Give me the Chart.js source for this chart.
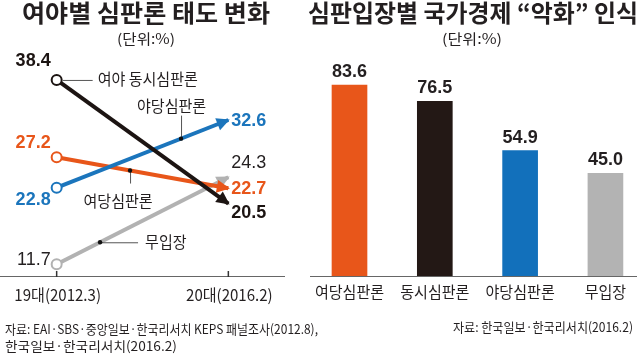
<!DOCTYPE html>
<html><head><meta charset="utf-8">
<script src="https://cdn.jsdelivr.net/npm/chart.js@4"></script>
<style>
html,body{margin:0;padding:0;background:#fff;}
#wrap{position:relative;width:640px;height:355px;overflow:hidden;font-family:"Noto Sans CJK KR","Noto Sans",sans-serif;color:#231f20;}
canvas{position:absolute;top:0;}
.t{position:absolute;white-space:nowrap;line-height:1;transform-origin:0 50%;}
</style></head><body>
<div id="wrap">
<canvas id="left" width="310" height="355" style="left:0"></canvas>
<canvas id="right" width="330" height="355" style="left:310px"></canvas>
</div>
<script>
// ---- data ----
const periods = ['19대(2012.3)', '20대(2016.2)'];
const seriesNames = ['여야 동시심판론', '야당심판론', '여당심판론', '무입장'];
const dongsiValues = [38.4, 20.5];
const yadangValues = [22.8, 32.6];
const yeodangValues = [27.2, 22.7];
const noStanceValues = [11.7, 24.3];
const barCategories = ['여당심판론', '동시심판론', '야당심판론', '무입장'];
const barValues = [83.6, 76.5, 54.9, 45.0];
const leftTitle = '여야별 심판론 태도 변화';
const rightTitle = '심판입장별 국가경제 “악화” 인식';
const unitLabel = '(단위:%)';
const leftSource = ['자료: EAI·SBS·중앙일보·한국리서치 KEPS 패널조사(2012.8),', '한국일보·한국리서치(2016.2)'];
const rightSource = '자료: 한국일보·한국리서치(2016.2)';

// ---- styles ----
const C = {orange:'#e8561a', blue:'#1b75bc', black:'#1c1412', gray:'#b2b2b2', text:'#231f20', axis:'#666'};
const NUM = '"Liberation Sans", Arial, sans-serif';
const KR = '"Noto Sans CJK KR", sans-serif';
const KR_SCALE = 0.94;

// ---- HTML texts ----
const wrap = document.getElementById('wrap');
function addText(t, x, cy, w, size, weight){
  const d = document.createElement('div');
  d.className = 't';
  d.textContent = t;
  d.style.left = x + 'px';
  d.style.top = (cy - size*0.57) + 'px';
  d.style.fontSize = size + 'px';
  d.style.fontWeight = weight;
  wrap.appendChild(d);
  const r = d.getBoundingClientRect().width;
  if (r > 0) d.style.transform = 'scaleX(' + (w / r) + ')';
}
addText(leftTitle, 22, 14, 248, 24, 700);
addText(rightTitle, 308, 14, 330, 24, 700);
addText(unitLabel, 117, 38.5, 58, 14, 400);
addText(unitLabel, 442, 38.5, 60, 14, 400);
addText(leftSource[0], 5, 329, 313, 13, 400);
addText(leftSource[1], 5, 346, 172, 13, 400);
addText(rightSource, 453, 327, 180, 13, 400);

// draw Korean text slightly condensed
function krText(ctx, text, x, y, align){
  ctx.save();
  ctx.font = '16px ' + KR;
  ctx.textAlign = align; ctx.textBaseline = 'middle';
  ctx.translate(x, y); ctx.scale(KR_SCALE, 1);
  ctx.fillText(text, 0, 0);
  ctx.restore();
}

// ---- left line chart ----
const lineSeries = [
  {name: seriesNames[0], values: dongsiValues, color: C.black,
   start:{dy:-18.5, bold:true, color:C.black}, end:{dy:10, bold:true, color:C.black},
   note:{type:'h', t:0, from:6, len:30, lx:41, ly:-1}},
  {name: seriesNames[1], values: yadangValues, color: C.blue,
   start:{dy:12, bold:true, color:C.blue}, end:{dy:1, bold:true, color:C.blue},
   note:{type:'v', t:0.7245, len:-23, lx:-9.5, ly:-33, dot:true}},
  {name: seriesNames[2], values: yeodangValues, color: C.orange,
   start:{dy:-14, bold:true, color:C.orange}, end:{dy:0.5, bold:true, color:C.orange},
   note:{type:'v', t:0.4275, len:13, lx:-12, ly:30.5, dot:true}},
  {name: seriesNames[3], values: noStanceValues, color: C.gray,
   start:{dy:-4, bold:false, color:C.text}, end:{dy:-14, bold:false, color:C.text},
   note:{type:'h', t:0.2528, from:0, len:38, lx:45, ly:0, dot:true}}
];

const linePlugin = {
  id:'lineDeco',
  afterDatasetDraw(chart, args){
    const ctx = chart.ctx;
    const pts = args.meta.data;
    const ds = chart.data.datasets[args.index];
    if (pts.length < 2) return;
    const p0 = pts[pts.length-2], p1 = pts[pts.length-1];
    const dx = p1.x - p0.x, dy = p1.y - p0.y, L = Math.hypot(dx, dy);
    const ux = dx/L, uy = dy/L;
    const tipX = p1.x + ux*1.5, tipY = p1.y + uy*1.5;
    const bx = tipX - ux*13, by = tipY - uy*13;
    const W = 6.5;
    ctx.save();
    ctx.fillStyle = ds.borderColor;
    ctx.beginPath();
    ctx.moveTo(tipX, tipY);
    ctx.lineTo(bx - uy*W, by + ux*W);
    ctx.lineTo(bx + uy*W, by - ux*W);
    ctx.closePath();
    ctx.fill();
    ctx.restore();
  },
  afterDraw(chart){
    const ctx = chart.ctx, a = chart.chartArea;
    const xs = chart.scales.x, ys = chart.scales.y;
    ctx.save();
    // axis
    ctx.strokeStyle = C.axis; ctx.lineWidth = 1;
    ctx.beginPath(); ctx.moveTo(a.left, a.bottom + 0.5); ctx.lineTo(a.right, a.bottom + 0.5); ctx.stroke();
    ctx.strokeStyle = '#333'; ctx.lineWidth = 1.5;
    periods.forEach((p, i) => {
      const x = xs.getPixelForValue(i);
      ctx.beginPath(); ctx.moveTo(x, a.bottom - 5); ctx.lineTo(x, a.bottom + 1); ctx.stroke();
    });
    ctx.fillStyle = C.text;
    periods.forEach((p, i) => krText(ctx, p, xs.getPixelForValue(i) + 1, a.bottom + 19, 'center'));
    ctx.textBaseline = 'middle';
    // value labels
    lineSeries.forEach(s => {
      const x0 = xs.getPixelForValue(0), x1 = xs.getPixelForValue(1);
      const y0 = ys.getPixelForValue(s.values[0]), y1 = ys.getPixelForValue(s.values[1]);
      ctx.font = (s.start.bold ? 'bold ' : '') + '18px ' + NUM;
      ctx.fillStyle = s.start.color; ctx.textAlign = 'right';
      ctx.fillText(s.values[0].toFixed(1), x0 - 6, y0 + s.start.dy);
      ctx.font = (s.end.bold ? 'bold ' : '') + '18px ' + NUM;
      ctx.fillStyle = s.end.color; ctx.textAlign = 'left';
      ctx.fillText(s.values[1].toFixed(1), x1 + 3, y1 + s.end.dy);
      // name notes
      const n = s.note;
      const px = x0 + (x1 - x0)*n.t, py = y0 + (y1 - y0)*n.t;
      ctx.strokeStyle = '#555'; ctx.lineWidth = 1;
      ctx.beginPath();
      if (n.type === 'h') { ctx.moveTo(px + n.from, py + 0.5); ctx.lineTo(px + n.from + n.len, py + 0.5); }
      else { ctx.moveTo(px + 0.5, py); ctx.lineTo(px + 0.5, py + n.len); }
      ctx.stroke();
      if (n.dot) { ctx.fillStyle = '#111'; ctx.beginPath(); ctx.arc(px, py, 2.2, 0, Math.PI*2); ctx.fill(); }
      ctx.fillStyle = C.text;
      krText(ctx, s.name, px + n.lx, py + n.ly, n.type === 'h' ? 'left' : 'center');
    });
    ctx.restore();
  }
};

new Chart(document.getElementById('left'), {
  type: 'line',
  data: {
    datasets: lineSeries.map(s => ({
      label: s.name,
      data: s.values.map((v, i) => ({x: i, y: v})),
      borderColor: s.color,
      borderWidth: 4,
      borderCapStyle: 'butt',
      tension: 0,
      pointRadius: [5, 0],
      pointBorderWidth: 2,
      pointBorderColor: s.color,
      pointBackgroundColor: '#fff',
      pointHoverRadius: 0,
      clip: false
    }))
  },
  options: {
    responsive: false, animation: false, events: [],
    devicePixelRatio: 1,
    layout: {autoPadding: false, padding: {left: 0, right: 25, top: 62, bottom: 79}},
    scales: {
      x: {type: 'linear', min: -0.33, max: 1.33, offset: false, display: false},
      y: {type: 'linear', min: 10, max: 41, display: false}
    },
    plugins: {legend: {display: false}, tooltip: {enabled: false}}
  },
  plugins: [linePlugin]
});

// ---- right bar chart ----
const barColors = [C.orange, '#231815', '#1270bb', '#b3b3b3'];
const barPlugin = {
  id:'barDeco',
  afterDraw(chart){
    const ctx = chart.ctx, a = chart.chartArea;
    const xs = chart.scales.x, ys = chart.scales.y;
    ctx.save();
    ctx.strokeStyle = C.axis; ctx.lineWidth = 1;
    ctx.beginPath(); ctx.moveTo(a.left, a.bottom + 0.5); ctx.lineTo(a.right, a.bottom + 0.5); ctx.stroke();
    ctx.textAlign = 'center'; ctx.textBaseline = 'middle';
    barValues.forEach((v, i) => {
      const x = xs.getPixelForValue(i);
      ctx.font = 'bold 18px ' + NUM; ctx.fillStyle = C.text;
      ctx.fillText(v.toFixed(1), x, ys.getPixelForValue(v) - 13);
      krText(ctx, barCategories[i], x, a.bottom + 16, 'center');
    });
    ctx.restore();
  }
};

new Chart(document.getElementById('right'), {
  type: 'bar',
  data: {
    datasets: [{
      data: barValues.map((v, i) => ({x: i, y: v})),
      backgroundColor: barColors,
      barThickness: 35,
      borderWidth: 0
    }]
  },
  options: {
    responsive: false, animation: false, events: [],
    devicePixelRatio: 1,
    layout: {autoPadding: false, padding: {left: 0, right: 3, top: 59, bottom: 79}},
    scales: {
      x: {type: 'linear', min: -0.463, max: 3.37, offset: false, display: false},
      y: {type: 'linear', min: 0, max: 95, display: false}
    },
    plugins: {legend: {display: false}, tooltip: {enabled: false}}
  },
  plugins: [barPlugin]
});
</script>
</body></html>
